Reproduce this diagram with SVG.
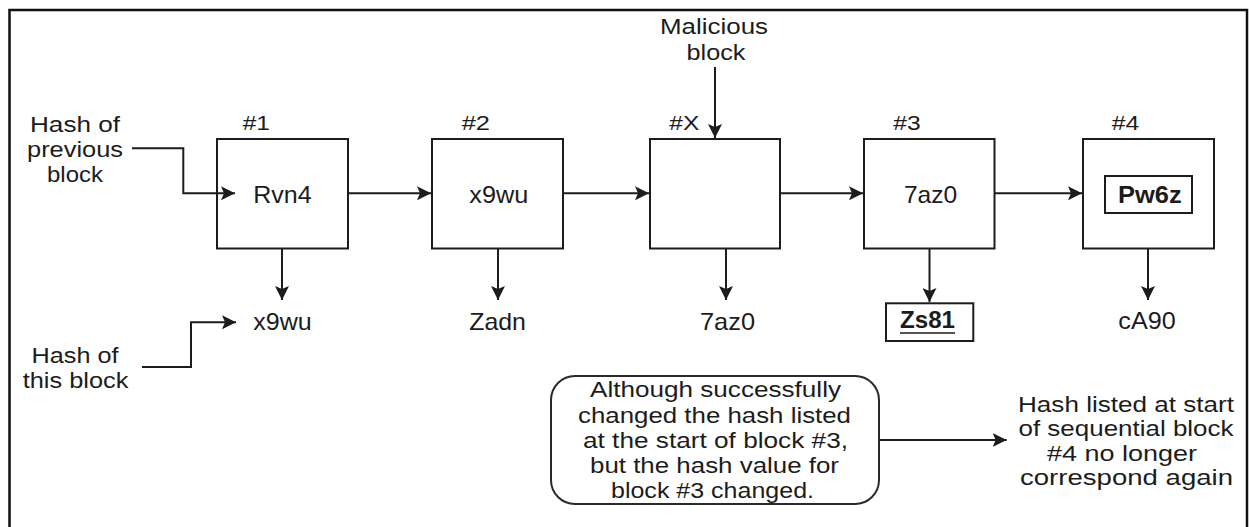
<svg xmlns="http://www.w3.org/2000/svg" width="1249" height="527" viewBox="0 0 1249 527">
  <style>
    text { font-family: "Liberation Sans", Arial, Helvetica, sans-serif; fill: #1c1c1c; }
    .lbl { font-size: 22.5px; text-anchor: middle; }
    .num { font-size: 20px; }
    .val { font-size: 24px; text-anchor: middle; }
    .bold { font-weight: bold; }
    .box { fill: #ffffff; stroke: #1c1c1c; stroke-width: 2; }
    .wire { fill: none; stroke: #1c1c1c; stroke-width: 2; }
  </style>
  <defs>
    <marker id="arrow" markerUnits="userSpaceOnUse" viewBox="0 0 14 14" markerWidth="14" markerHeight="14" refX="14" refY="7" orient="auto">
      <path d="M0,0 L14,7 L0,14 L3,7 Z" fill="#1c1c1c"/>
    </marker>
  </defs>

  <rect width="1249" height="527" fill="#ffffff"/>
  <!-- frame -->
  <rect x="9.5" y="10" width="1237.5" height="530" fill="none" stroke="#111" stroke-width="2.5"/>

  <!-- chain of blocks -->
  <g id="block1">
    <rect class="box" x="217" y="139" width="131" height="109.5"/>
    <text class="num" x="242.7" y="129.5" textLength="27.3" lengthAdjust="spacingAndGlyphs">#1</text>
    <text class="val" x="282.5" y="203" textLength="58.4" lengthAdjust="spacingAndGlyphs">Rvn4</text>
  </g>
  <g id="block2">
    <rect class="box" x="432" y="139" width="131" height="109.5" stroke="#3a3a3a"/>
    <text class="num" x="461.7" y="129.5" textLength="28.3" lengthAdjust="spacingAndGlyphs">#2</text>
    <text class="val" x="498.8" y="203" textLength="59" lengthAdjust="spacingAndGlyphs">x9wu</text>
  </g>
  <g id="blockX">
    <rect class="box" x="650" y="139" width="130" height="109.5"/>
    <text class="num" x="669.3" y="129.5" textLength="30" lengthAdjust="spacingAndGlyphs">#X</text>
  </g>
  <g id="block3">
    <rect class="box" x="864" y="139" width="130.5" height="109.5"/>
    <text class="num" x="893.3" y="129.5" textLength="27.4" lengthAdjust="spacingAndGlyphs">#3</text>
    <text class="val" x="930.6" y="203" textLength="53.3" lengthAdjust="spacingAndGlyphs">7az0</text>
  </g>
  <g id="block4">
    <rect class="box" x="1083" y="139" width="131" height="109.5"/>
    <text class="num" x="1111.7" y="129.5" textLength="27.6" lengthAdjust="spacingAndGlyphs">#4</text>
    <rect class="box" x="1105" y="176" width="87" height="37"/>
    <text class="val bold" x="1149.8" y="203" textLength="63.7" lengthAdjust="spacingAndGlyphs">Pw6z</text>
  </g>

  <!-- hash outputs -->
  <g id="hash1">
    <text class="val" x="282.5" y="330" textLength="58.4" lengthAdjust="spacingAndGlyphs">x9wu</text>
  </g>
  <g id="hash2">
    <text class="val" x="497.6" y="330" textLength="56.7" lengthAdjust="spacingAndGlyphs">Zadn</text>
  </g>
  <g id="hashX">
    <text class="val" x="727.5" y="330" textLength="55" lengthAdjust="spacingAndGlyphs">7az0</text>
  </g>
  <g id="hash3">
    <rect class="box" x="886" y="303.3" width="87.3" height="37.7"/>
    <text class="val bold" x="927.5" y="328" textLength="55" lengthAdjust="spacingAndGlyphs">Zs81</text>
    <line x1="900" y1="333" x2="955" y2="333" stroke="#1c1c1c" stroke-width="1.6"/>
  </g>
  <g id="hash4">
    <text class="val" x="1147" y="329.3" textLength="57.4" lengthAdjust="spacingAndGlyphs">cA90</text>
  </g>

  <!-- side captions -->
  <g id="prevHashLabel">
    <text class="lbl" x="75" y="131.5" textLength="90" lengthAdjust="spacingAndGlyphs">Hash of</text>
    <text class="lbl" x="75" y="156.5" textLength="96" lengthAdjust="spacingAndGlyphs">previous</text>
    <text class="lbl" x="75" y="181.7" textLength="56" lengthAdjust="spacingAndGlyphs">block</text>
  </g>
  <g id="thisHashLabel">
    <text class="lbl" x="75" y="362.7" textLength="87" lengthAdjust="spacingAndGlyphs">Hash of</text>
    <text class="lbl" x="75.5" y="387.7" textLength="105.7" lengthAdjust="spacingAndGlyphs">this block</text>
  </g>
  <g id="maliciousLabel">
    <text class="lbl" x="714" y="34.3" textLength="108" lengthAdjust="spacingAndGlyphs">Malicious</text>
    <text class="lbl" x="716" y="60" textLength="59" lengthAdjust="spacingAndGlyphs">block</text>
  </g>

  <!-- explanation -->
  <g id="note">
    <rect x="551" y="376" width="328" height="128" rx="24" ry="24" fill="#ffffff" stroke="#2a2a2a" stroke-width="2"/>
    <text class="lbl" x="715.5" y="397" textLength="251" lengthAdjust="spacingAndGlyphs">Although successfully</text>
    <text class="lbl" x="714.5" y="423" textLength="273" lengthAdjust="spacingAndGlyphs">changed the hash listed</text>
    <text class="lbl" x="715.5" y="448" textLength="265" lengthAdjust="spacingAndGlyphs">at the start of block #3,</text>
    <text class="lbl" x="714.5" y="473" textLength="249" lengthAdjust="spacingAndGlyphs">but the hash value for</text>
    <text class="lbl" x="712.5" y="498" textLength="203" lengthAdjust="spacingAndGlyphs">block #3 changed.</text>
  </g>
  <g id="result">
    <text class="lbl" x="1126" y="411.7" textLength="216" lengthAdjust="spacingAndGlyphs">Hash listed at start</text>
    <text class="lbl" x="1126" y="436" textLength="215" lengthAdjust="spacingAndGlyphs">of sequential block</text>
    <text class="lbl" x="1122" y="460.5" textLength="150" lengthAdjust="spacingAndGlyphs">#4 no longer</text>
    <text class="lbl" x="1126.5" y="485" textLength="213" lengthAdjust="spacingAndGlyphs">correspond again</text>
  </g>

  <!-- connectors -->
  <g id="connectors" class="wire">
    <path class="wire" d="M132,148.3 H183.3 V193.3 H235" marker-end="url(#arrow)"/>
    <path class="wire" d="M142,367 H191 V322.3 H236" marker-end="url(#arrow)"/>
    <path class="wire" d="M348,193.3 H431" marker-end="url(#arrow)"/>
    <path class="wire" d="M563,193.3 H649" marker-end="url(#arrow)"/>
    <path class="wire" d="M780,193.3 H863" marker-end="url(#arrow)"/>
    <path class="wire" d="M994.5,193.3 H1082" marker-end="url(#arrow)"/>
    <path class="wire" d="M715,67 V138" marker-end="url(#arrow)"/>
    <path class="wire" d="M282,248.5 V300" marker-end="url(#arrow)"/>
    <path class="wire" d="M498,248.5 V300" marker-end="url(#arrow)"/>
    <path class="wire" d="M726,248.5 V300" marker-end="url(#arrow)"/>
    <path class="wire" d="M929.5,248.5 V302" marker-end="url(#arrow)"/>
    <path class="wire" d="M1148,248.5 V300" marker-end="url(#arrow)"/>
    <path class="wire" d="M879,440 H1006.7" marker-end="url(#arrow)"/>
  </g>
</svg>
